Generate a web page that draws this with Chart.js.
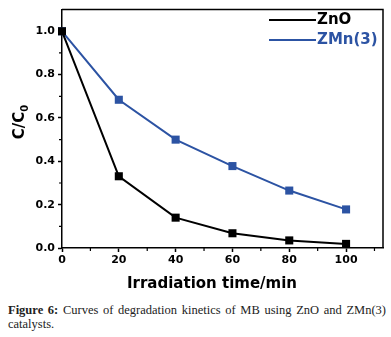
<!DOCTYPE html>
<html>
<head>
<meta charset="utf-8">
<script src="https://cdn.jsdelivr.net/npm/chart.js@4/dist/chart.umd.min.js"></script>
<style>
  body { margin: 0; background: #fff; width: 391px; height: 337px; position: relative; overflow: hidden; }
  #chart { position: absolute; left: 0; top: 0; }
  #caption {
    position: absolute; left: 8px; top: 303px; width: 378px;
    font-family: "Liberation Serif", "DejaVu Serif", serif; font-size: 12.5px; line-height: 14px;
    color: #222; text-align: justify; text-align-last: left;
  }
  #caption b { color: #222; }
</style>
</head>
<body>
<canvas id="chart" width="391" height="300"></canvas>
<div id="caption"><b>Figure 6:</b> Curves of degradation kinetics of MB using ZnO and ZMn(3) catalysts.</div>
<script>
// data
const times = [0, 20, 40, 60, 80, 100];
const zno = [1.0, 0.331, 0.14, 0.068, 0.035, 0.019];
const zmn = [1.0, 0.684, 0.50, 0.378, 0.265, 0.178];
const seriesNames = ['ZnO', 'ZMn(3)'];
const seriesColors = ['#000000', '#2c53a3'];
const xTicks = [0, 20, 40, 60, 80, 100];
const yTicks = [0, 0.2, 0.4, 0.6, 0.8, 1.0];
const xMinor = [10, 30, 50, 70, 90, 110];
const yMinor = [0.1, 0.3, 0.5, 0.7, 0.9];

const tickFont = { family: 'DejaVu Sans', weight: 'bold', size: 11 };

function toPoints(xs, ys) {
    return xs.map((x, i) => ({ x: x, y: ys[i] }));
}

// frame, minor ticks, axis titles and legend
const decorations = {
    id: 'decorations',
    afterDraw(chart) {
        const ctx = chart.ctx;
        const a = chart.chartArea;
        const xs = chart.scales.x, ys = chart.scales.y;
        ctx.save();
        ctx.strokeStyle = '#000';
        ctx.lineWidth = 1.5;
        ctx.beginPath();
        ctx.moveTo(a.left, a.top);
        ctx.lineTo(a.right, a.top);
        ctx.lineTo(a.right, a.bottom);
        ctx.stroke();

        ctx.lineWidth = 1.2;
        ctx.beginPath();
        xMinor.forEach(v => {
            const px = xs.getPixelForValue(v);
            if (px <= a.right) { ctx.moveTo(px, a.bottom); ctx.lineTo(px, a.bottom + 3); }
        });
        yMinor.forEach(v => {
            const py = ys.getPixelForValue(v);
            ctx.moveTo(a.left, py); ctx.lineTo(a.left - 3, py);
        });
        ctx.stroke();

        // x title
        ctx.fillStyle = '#000';
        ctx.font = 'bold 15px "DejaVu Sans"';
        ctx.textAlign = 'center';
        ctx.textBaseline = 'middle';
        ctx.fillText('Irradiation time/min', 212, 284);

        // y title C/C0
        ctx.save();
        ctx.translate(20, 122);
        ctx.rotate(-Math.PI / 2);
        ctx.font = 'bold 15px "DejaVu Sans"';
        const main = 'C/C';
        const w1 = ctx.measureText(main).width;
        ctx.font = 'bold 10px "DejaVu Sans"';
        const w2 = ctx.measureText('0').width;
        const start = -(w1 + w2) / 2;
        ctx.textAlign = 'left';
        ctx.font = 'bold 15px "DejaVu Sans"';
        ctx.fillText(main, start, 0);
        ctx.font = 'bold 10px "DejaVu Sans"';
        ctx.fillText('0', start + w1, 5);
        ctx.restore();

        // legend
        ctx.font = 'bold 15px "DejaVu Sans"';
        ctx.textAlign = 'left';
        chart.data.datasets.forEach((ds, i) => {
            const y = 20 + i * 20;
            ctx.strokeStyle = ds.borderColor;
            ctx.lineWidth = 2;
            ctx.beginPath();
            ctx.moveTo(269, y);
            ctx.lineTo(316, y);
            ctx.stroke();
            ctx.fillStyle = ds.borderColor;
            ctx.fillText(ds.label, 317, y);
        });
        ctx.restore();
    }
};

new Chart(document.getElementById('chart'), {
    type: 'line',
    data: {
        datasets: [
            { label: seriesNames[0], data: toPoints(times, zno), borderColor: seriesColors[0], backgroundColor: seriesColors[0] },
            { label: seriesNames[1], data: toPoints(times, zmn), borderColor: seriesColors[1], backgroundColor: seriesColors[1] }
        ].map(ds => Object.assign(ds, {
            borderWidth: 2, pointStyle: 'rect', pointRadius: 5.7, pointBorderWidth: 0, tension: 0, clip: false
        }))
    },
    options: {
        responsive: false,
        devicePixelRatio: 1,
        animation: false,
        layout: { padding: { top: 9, right: 8, left: 0, bottom: 0 } },
        plugins: { legend: { display: false }, tooltip: { enabled: false } },
        scales: {
            x: {
                type: 'linear', min: 0, max: 113,
                afterBuildTicks: s => { s.ticks = xTicks.map(v => ({ value: v })); },
                afterFit: s => { s.height = 52; },
                ticks: { font: tickFont, color: '#000', padding: 2, maxRotation: 0 },
                grid: { drawOnChartArea: false, tickLength: 4, color: '#000', tickWidth: 1.5 },
                border: { color: '#000', width: 1.5 }
            },
            y: {
                min: 0, max: 1.1,
                afterBuildTicks: s => { s.ticks = yTicks.map(v => ({ value: v })); },
                afterFit: s => { s.width = 62; },
                ticks: { font: tickFont, color: '#000', padding: 3, callback: v => v.toFixed(1) },
                grid: { drawOnChartArea: false, tickLength: 4, color: '#000', tickWidth: 1.5 },
                border: { color: '#000', width: 1.5 }
            }
        }
    },
    plugins: [decorations]
});
</script>
</body>
</html>
